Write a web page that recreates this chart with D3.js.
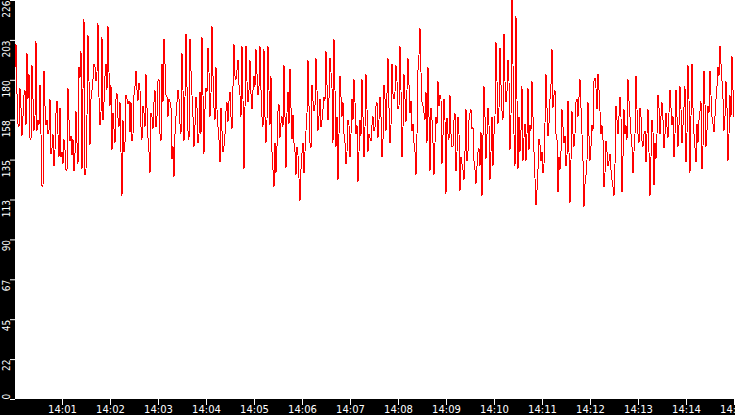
<!DOCTYPE html>
<html>
<head>
<meta charset="utf-8">
<script src="https://cdn.jsdelivr.net/npm/d3@7"></script>
<style>
html, body { margin: 0; padding: 0; background: #000; overflow: hidden; }
</style>
</head>
<body>
<svg id="chart"></svg>
<script>
var parseTime = d3.timeParse("%H:%M");
var startLabel = "14:00";
var endLabel = "14:15";
var stepSeconds = 1.25;

// one sample every 1.25 s (one pixel column)
var values = [
  192,188,201,173,156,154,176,165,149,160,172,175,155,196,170,184,148,147,189,170,
  152,160,203,152,158,155,178,150,121,120,186,166,155,158,150,152,170,139,142,150,
  132,141,162,169,150,137,165,137,140,133,147,141,130,129,176,158,146,149,138,147,
  129,139,163,145,133,188,182,197,130,175,215,127,130,160,206,180,144,170,175,181,
  190,188,180,185,213,171,155,162,205,158,168,183,190,175,211,185,166,178,141,162,
  153,145,170,173,159,154,168,140,115,158,140,145,172,170,167,169,151,168,146,150,
  172,177,186,175,169,179,175,154,147,166,162,154,184,165,148,140,128,162,160,153,
  168,175,154,160,180,181,150,146,190,168,204,190,172,171,160,170,168,165,136,143,
  126,150,160,168,175,170,156,150,196,175,146,171,207,177,152,147,204,186,172,160,
  143,155,171,165,145,150,174,150,205,172,139,164,176,174,199,185,160,173,211,183,
  165,158,188,164,154,147,134,165,152,140,143,150,163,168,157,169,174,160,153,177,
  201,183,181,186,192,178,172,160,200,170,130,165,200,180,168,175,192,173,164,175,
  183,177,198,184,172,177,200,175,160,154,198,160,145,158,200,175,155,183,140,130,
  120,145,128,143,163,167,148,156,160,154,189,160,131,162,174,156,187,165,147,161,
  145,140,127,143,138,125,112,130,139,145,128,140,152,162,192,166,145,142,178,169,
  163,166,193,175,152,160,170,154,158,164,171,169,197,178,158,170,193,185,176,145,
  204,175,143,160,124,150,183,171,160,168,150,145,133,140,158,155,137,150,170,158,
  181,168,150,155,123,140,158,149,181,160,137,154,184,164,140,150,148,146,155,160,
  152,154,166,168,148,158,171,160,137,147,178,170,152,173,193,165,145,155,190,173,
  170,174,189,180,164,166,200,175,137,154,184,170,157,175,193,178,162,169,152,156,
  145,140,127,150,186,195,210,185,168,166,162,158,174,145,188,160,129,165,158,145,
  127,145,160,156,180,166,172,170,133,149,170,158,116,159,150,147,172,150,143,143,
  158,162,129,140,160,150,118,137,133,130,124,140,164,135,140,158,162,164,153,154,
  135,130,122,132,140,142,132,151,115,149,177,160,136,150,165,155,124,140,160,132,
  150,160,202,180,156,165,199,178,163,158,207,180,168,174,192,180,141,160,226,190,
  150,132,217,170,130,160,140,152,177,135,148,156,135,150,176,141,155,152,180,160,
  140,125,110,118,130,147,144,135,140,128,133,156,184,165,149,156,170,178,198,165,
  172,175,150,147,117,137,130,140,164,154,145,149,132,138,169,140,111,135,163,150,
  143,150,168,170,160,171,181,165,150,135,109,122,127,135,168,149,135,143,155,152,
  180,182,176,164,184,175,163,150,155,147,120,128,146,140,132,135,139,130,124,120,
  115,133,166,158,150,160,171,160,117,137,164,150,155,147,181,169,160,150,143,128,
  140,150,183,164,150,145,165,160,146,143,150,152,134,150,164,140,115,137,158,151,
  121,145,136,150,172,165,150,160,168,158,142,150,162,154,148,162,175,165,155,160,
  137,150,175,160,143,155,177,164,145,155,165,177,134,150,189,170,128,160,190,165,
  150,142,134,156,145,158,163,169,130,143,186,167,143,152,166,162,186,172,160,156,
  151,160,170,177,188,183,200,190,180,170,152,160,180,165,135,150,172,160,194,175,160
];

var yTicks = [0, 22.6, 45.2, 67.8, 90.4, 113, 135.6, 158.2, 180.8, 203.4, 226];
var yTickLabels = ["0", "22", "45", "67", "90", "113", "135", "158", "180", "203", "226"];
var xTickLabels = ["14:01", "14:02", "14:03", "14:04", "14:05", "14:06", "14:07", "14:08",
                   "14:09", "14:10", "14:11", "14:12", "14:13", "14:14", "14:15"];

var width = 735, height = 415;
var left = 15, bottom = 399;

var t0 = parseTime(startLabel);
var data = values.map(function (v, i) {
    return { t: new Date(t0.getTime() + i * stepSeconds * 1000), v: v };
});

var x = d3.scaleTime()
    .domain([t0, parseTime(endLabel)])
    .range([14, 734]);

var y = d3.scaleLinear()
    .domain([0, 226])
    .range([bottom, 0]);

var svg = d3.select("#chart")
    .attr("width", width)
    .attr("height", height);

svg.append("rect")
    .attr("width", width)
    .attr("height", height)
    .attr("fill", "#000");

svg.append("rect")
    .attr("x", left)
    .attr("y", 0)
    .attr("width", width - left)
    .attr("height", bottom)
    .attr("fill", "#fff");

svg.append("clipPath")
    .attr("id", "plotClip")
    .append("rect")
    .attr("x", left)
    .attr("y", 0)
    .attr("width", width - left)
    .attr("height", bottom);

var line = d3.line()
    .x(d => x(d.t))
    .y(d => y(d.v));

svg.append("path")
    .datum(data)
    .attr("clip-path", "url(#plotClip)")
    .attr("fill", "none")
    .attr("stroke", "#ff0000")
    .attr("stroke-width", 1)
    .attr("shape-rendering", "crispEdges")
    .attr("d", line);

// x axis in the black strip
var xAxis = svg.append("g")
    .attr("transform", "translate(0," + bottom + ")")
    .call(d3.axisBottom(x)
        .tickValues(xTickLabels.map(parseTime))
        .tickFormat(d3.timeFormat("%H:%M"))
        .tickSize(6)
        .tickPadding(1));

xAxis.select(".domain").remove();
xAxis.selectAll("line").attr("stroke", "#fff");
xAxis.selectAll("text")
    .attr("fill", "#fff")
    .style("font-family", "'DejaVu Sans', sans-serif")
    .style("font-size", "10px");

// y axis, labels turned on their side
var yAxis = svg.append("g")
    .attr("transform", "translate(" + left + ",0)")
    .call(d3.axisLeft(y)
        .tickValues(yTicks)
        .tickFormat((d, i) => yTickLabels[i])
        .tickSize(5));

yAxis.select(".domain").remove();
yAxis.selectAll("line").attr("stroke", "#fff");
yAxis.selectAll("text")
    .attr("x", null)
    .attr("dy", null)
    .attr("transform", "translate(-5.5,0) rotate(-90)")
    .attr("text-anchor", (d, i) => i === 0 ? "start" : "end")
    .attr("fill", "#fff")
    .style("font-family", "'Liberation Sans Narrow', 'DejaVu Sans Condensed', sans-serif")
    .style("font-size", "10px");
</script>
</body>
</html>
